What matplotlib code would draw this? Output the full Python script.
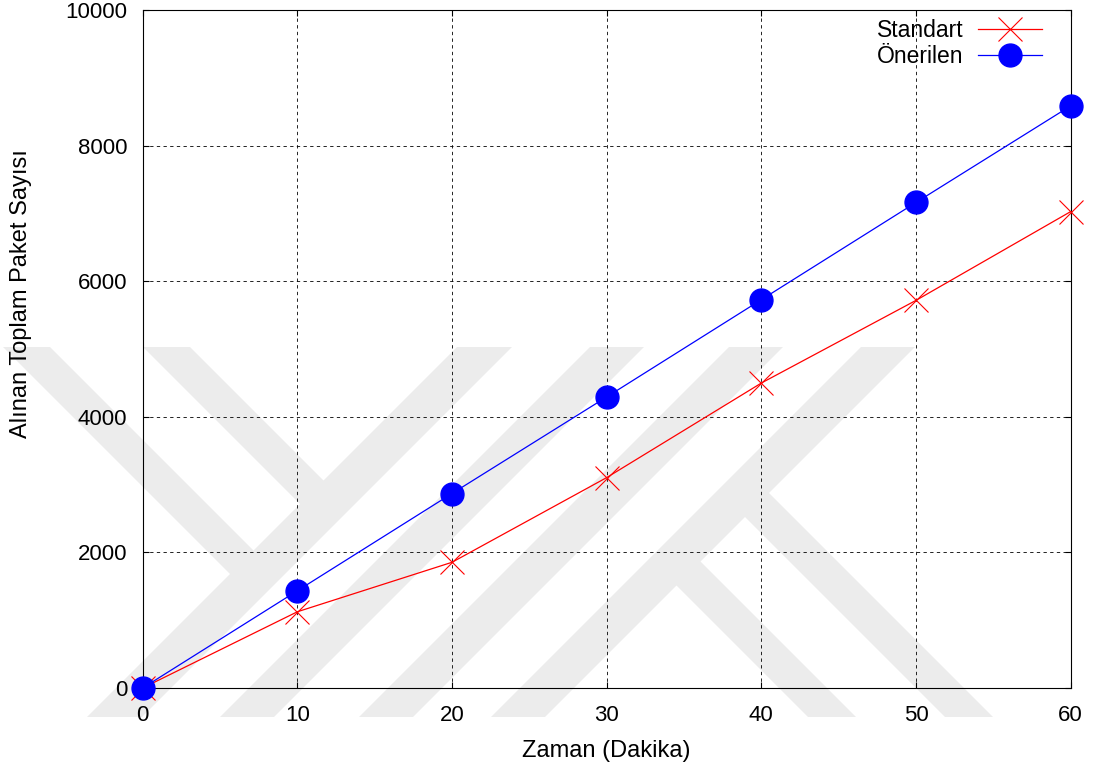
import matplotlib
matplotlib.use("Agg")
import matplotlib.pyplot as plt
from matplotlib.patches import Polygon

# Received packet totals over time (minutes)
minutes = [0, 10, 20, 30, 40, 50, 60]
standart = [0, 1125, 1855, 3105, 4500, 5720, 7030]
onerilen = [0, 1435, 2870, 4295, 5730, 7165, 8590]
x_ticks = [0, 10, 20, 30, 40, 50, 60]
y_ticks = [0, 2000, 4000, 6000, 8000, 10000]

W, H = 1097, 769
plt.rcParams["font.family"] = ["Liberation Sans", "DejaVu Sans"]
fig = plt.figure(figsize=(W / 100, H / 100), dpi=100)

# ---- faint background emblem, drawn in pixel space on its own layer ----
bg = fig.add_axes([0, 0, 1, 1], zorder=0)
bg.set_xlim(0, W)
bg.set_ylim(H, 0)
bg.axis("off")
top, bot = 347, 717
span = bot - top
mark_color = "#ececec"


def slash_band(x0, w):
    return [(x0, top), (x0 + w, top), (x0 + w - span, bot), (x0 - span, bot)]


def arm_from_top(a, w, c):
    d1 = (c - a - w - top) / 2
    d2 = (c - a - top) / 2
    return [(a, top), (a + w, top), (a + w + d1, top + d1), (a + d2, top + d2)]


def arm_from_bottom(b, w, c):
    e1 = (b + bot - c) / 2
    e2 = (b + w + bot - c) / 2
    return [(b, bot), (b + w, bot), (b + w - e2, bot - e2), (b - e1, bot - e1)]


bands = [(457, 55), (590, 54), (729, 54), (861, 54)]
shapes = [slash_band(x0, w) for x0, w in bands]
c_left = bands[0][0] + bands[0][1] / 2 + top
c_right = bands[3][0] + bands[3][1] / 2 + top
shapes += [arm_from_top(3, 47, c_left), arm_from_top(143, 47, c_left)]
shapes += [arm_from_bottom(945, 48, c_right), arm_from_bottom(808, 48, c_right)]
for pts in shapes:
    bg.add_patch(Polygon(pts, closed=True, facecolor=mark_color,
                         edgecolor="none"))

# ---- main chart ----
left, right, ytop, ybot = 142.7, 1070.7, 10.3, 688.0
ax = fig.add_axes([left / W, 1 - ybot / H, (right - left) / W, (ybot - ytop) / H],
                  zorder=1)
ax.set_facecolor("none")

ax.plot(minutes, standart, color="#ff0000", lw=0.9, marker="x", ms=17,
        mew=0.8, label="Standart", clip_on=False, zorder=3)
ax.plot(minutes, onerilen, color="#0000ff", lw=0.9, marker="o", ms=16.5,
        mec="#0000ff", label="Önerilen", clip_on=False, zorder=4)

ax.set_xlim(0, 60)
ax.set_ylim(0, 10000)
ax.set_xticks(x_ticks)
ax.set_yticks(y_ticks)
ax.set_xticklabels([str(v) for v in x_ticks])
ax.set_yticklabels([str(v) for v in y_ticks])

ax.grid(True, color="black", linestyle=(0, (4, 4)), linewidth=0.6)
ax.set_axisbelow(True)
for s in ax.spines.values():
    s.set_linewidth(0.8)
    s.set_color("black")

ax.tick_params(axis="both", direction="in", length=4.5, width=0.8,
               top=True, right=True, labelsize=16, colors="black")
ax.tick_params(axis="y", pad=11)
ax.tick_params(axis="x", pad=12.5)

ax.set_xlabel("Zaman (Dakika)", fontsize=17)
ax.xaxis.set_label_coords(0.5, -0.076)
ax.set_ylabel("Alınan Toplam Paket Sayısı", fontsize=17)
ax.yaxis.label.set_verticalalignment("center")
ax.yaxis.set_label_coords((21 - left) / (right - left), (ybot - 294) / (ybot - ytop))

leg = ax.legend(loc="upper right", bbox_to_anchor=(1042 / W, 1 - 19 / H),
                bbox_transform=fig.transFigure, frameon=False, fontsize=16.5,
                markerfirst=False, numpoints=1, handlelength=2.8,
                handletextpad=0.62, labelspacing=0.12, borderpad=0,
                borderaxespad=0)

fig.savefig("out.png", dpi=100)
